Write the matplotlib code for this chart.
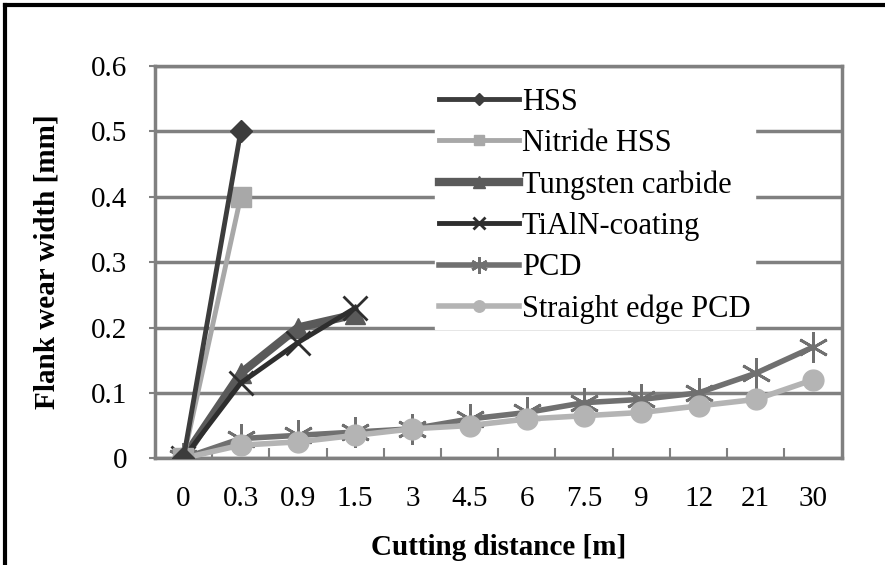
"""Flank wear width vs cutting distance."""

import numpy as np
import matplotlib
matplotlib.use("Agg")
import matplotlib.pyplot as plt
from matplotlib.lines import Line2D

plt.rcParams['font.family'] = ['Liberation Serif', 'DejaVu Serif']

distance = ['0', '0.3', '0.9', '1.5', '3', '4.5', '6', '7.5', '9', '12', '21', '30']
nan = np.nan
hss = [0, 0.5] + [nan] * 10
nitride_hss = [0, 0.4] + [nan] * 10
tungsten = [0, 0.13, 0.2, 0.22] + [nan] * 8
tialn = [0, 0.115, 0.177, 0.23] + [nan] * 8
pcd = [0, 0.03, 0.035, 0.04, 0.045, 0.06, 0.07, 0.085, 0.09, 0.1, 0.13, 0.17]
straight_pcd = [0, 0.02, 0.025, 0.035, 0.045, 0.05, 0.06, 0.065, 0.07, 0.08, 0.09, 0.12]
y_ticks = [0, 0.1, 0.2, 0.3, 0.4, 0.5, 0.6]
y_labels = ['0', '0.1', '0.2', '0.3', '0.4', '0.5', '0.6']

fig = plt.figure(figsize=(8.85, 5.65), dpi=100)
ax = fig.add_axes([0.175, 0.189, 0.776, 0.694])

x = np.arange(len(distance))
ax.plot(x, pcd, color='#707070', lw=4, marker=(6, 2, 0), ms=22, mew=2,
        label='PCD', zorder=3)
ax.plot(x, straight_pcd, color='#b4b4b4', lw=4, marker='o', ms=15,
        label='Straight edge PCD', zorder=3)
ax.plot(x, tungsten, color='#5a5a5a', lw=6, marker='^', ms=15,
        label='Tungsten carbide', zorder=4)
ax.plot(x, tialn, color='#2e2e2e', lw=3.5, marker='x', ms=17, mew=2,
        label='TiAlN-coating', zorder=4)
ax.plot(x, nitride_hss, color='#a8a8a8', lw=3.5, marker='s', ms=14,
        label='Nitride HSS', zorder=5)
ax.plot(x, hss, color='#3c3c3c', lw=3.5, marker='D', ms=11,
        label='HSS', zorder=5)

ax.set_xlim(-0.5, len(distance) - 0.5)
ax.set_ylim(0, 0.6)
ax.set_xticks(x)
ax.set_xticklabels(distance)
ax.set_xticks(np.arange(0.5, len(distance) - 0.5), minor=True)
ax.set_yticks(y_ticks)
ax.set_yticklabels(y_labels)
ax.tick_params(axis='x', which='major', length=0, pad=20, labelsize=21)
ax.tick_params(axis='x', which='minor', direction='in', length=7,
               width=1.5, color='#808080')
ax.tick_params(axis='y', direction='out', length=4, width=1.5,
               color='#808080', pad=16, labelsize=21)
ax.yaxis.grid(True, color='#808080', lw=2.5)
ax.set_axisbelow(True)
for s in ax.spines.values():
    s.set_color('#808080')
    s.set_linewidth(2.5)

ax.set_xlabel('Cutting distance [m]', fontsize=21, fontweight='bold',
              labelpad=16)
ax.set_ylabel('Flank wear width [mm]', fontsize=21, fontweight='bold',
              labelpad=22)

handles, labels = ax.get_legend_handles_labels()
order = ['HSS', 'Nitride HSS', 'Tungsten carbide', 'TiAlN-coating', 'PCD',
         'Straight edge PCD']
hmap = dict(zip(labels, handles))
leg = ax.legend([hmap[k] for k in order], order, loc='upper left',
                bbox_to_anchor=(0.385, 0.995), fontsize=22, frameon=True,
                facecolor='white', edgecolor='white', framealpha=1,
                fancybox=False, handlelength=2.6, handletextpad=0.1,
                labelspacing=0.4, markerscale=0.55, borderpad=0.15)
leg.set_zorder(6)

# outer frame (top and left edges visible)
fig.add_artist(Line2D([0.006, 0.006], [0, 0.991], color='black', lw=3,
                      transform=fig.transFigure))
fig.add_artist(Line2D([0.006, 1.0], [0.991, 0.991], color='black', lw=3,
                      transform=fig.transFigure))

fig.savefig('out.png', dpi=100)
